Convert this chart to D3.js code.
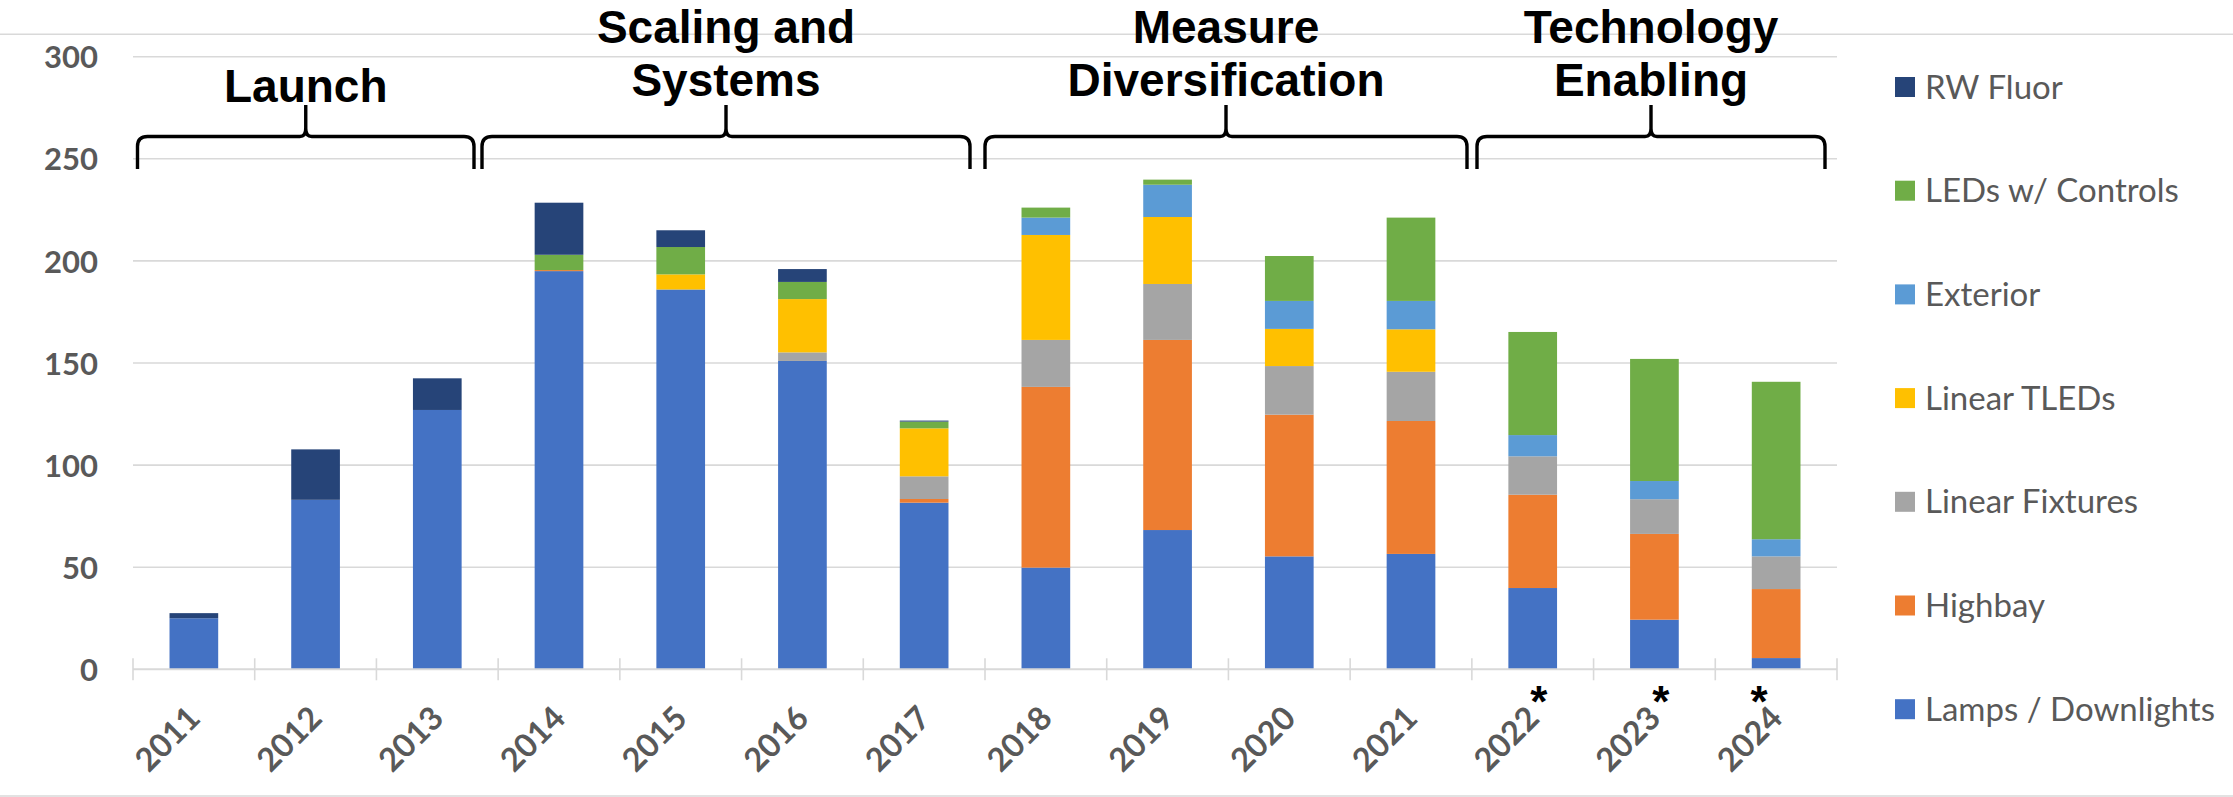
<!DOCTYPE html>
<html>
<head>
<meta charset="utf-8">
<script src="https://cdn.jsdelivr.net/npm/d3@7"></script>
<style>
  html, body { margin: 0; padding: 0; background: #ffffff; }
  svg { display: block; }
</style>
</head>
<body>
<svg id="chart" width="2233" height="797"></svg>
<script>
// ---- Data -------------------------------------------------------------
const years = ['2011','2012','2013','2014','2015','2016','2017','2018','2019','2020','2021','2022','2023','2024'];
const starredYears = ['2022','2023','2024'];

const seriesNames = ['Lamps / Downlights','Highbay','Linear Fixtures','Linear TLEDs','Exterior','LEDs w/ Controls','RW Fluor'];

const lampsDownlights = [25, 83, 127, 195, 186, 151, 81.6, 49.8, 68.2, 55.3, 56.5, 39.8, 24.3, 5.5];
const highbay         = [0, 0, 0, 0.5, 0, 0, 1.8, 88.5, 93.1, 69.4, 65.1, 45.7, 42, 33.8];
const linearFixtures  = [0, 0, 0, 0, 0, 4.2, 11.1, 23, 27.4, 23.8, 24.1, 18.8, 17, 16];
const linearTLEDs     = [0, 0, 0, 0, 7.4, 26.1, 23.5, 51.4, 32.8, 18.2, 20.8, 0, 0, 0];
const exterior        = [0, 0, 0, 0, 0, 0, 0, 8.5, 15.8, 13.7, 13.9, 10.4, 8.9, 8.4];
const ledsWithControls= [0, 0, 0, 7.5, 13.4, 8.4, 3.3, 4.9, 2.5, 22, 40.8, 50.5, 59.8, 77.1];
const rwFluor         = [2.5, 24.7, 15.5, 25.5, 8.2, 6.3, 0.5, 0, 0, 0, 0, 0, 0, 0];

const yTickValues = [0, 50, 100, 150, 200, 250, 300];

const phaseLabels = [
  ['Launch'],
  ['Scaling and', 'Systems'],
  ['Measure', 'Diversification'],
  ['Technology', 'Enabling']
];

// ---- Styles -----------------------------------------------------------
const seriesColors = {
  'Lamps / Downlights': '#4472C4',
  'Highbay': '#ED7D31',
  'Linear Fixtures': '#A5A5A5',
  'Linear TLEDs': '#FFC000',
  'Exterior': '#5B9BD5',
  'LEDs w/ Controls': '#70AD47',
  'RW Fluor': '#264478'
};
const gridColor = '#d9d9d9';
const textGray = '#595959';
const axisFont = 'Lato, "Open Sans", sans-serif';
const phaseFont = '"Liberation Sans", Arial, sans-serif';

// ---- Table for the stack layout ----------------------------------------
const seriesValues = [lampsDownlights, highbay, linearFixtures, linearTLEDs, exterior, ledsWithControls, rwFluor];
const table = years.map((yr, i) => {
  const row = { year: yr };
  seriesNames.forEach((name, s) => { row[name] = seriesValues[s][i]; });
  return row;
});
const stacked = d3.stack().keys(seriesNames)(table);

// ---- Layout -----------------------------------------------------------
const W = 2233, H = 797;
const plot = { left: 133, right: 1837, top: 56.7, bottom: 669.3 };

const svg = d3.select('#chart');

const x = d3.scaleBand()
  .domain(years)
  .range([plot.left, plot.right])
  .paddingInner(0.6)
  .paddingOuter(0.3);

const y = d3.scaleLinear()
  .domain([0, 300])
  .range([plot.bottom, plot.top]);

// Outer chart frame edges (top and bottom)
svg.append('line')
  .attr('x1', 0).attr('x2', W).attr('y1', 34.3).attr('y2', 34.3)
  .attr('stroke', gridColor).attr('stroke-width', 1.5);
svg.append('line')
  .attr('x1', 0).attr('x2', W).attr('y1', 796).attr('y2', 796)
  .attr('stroke', gridColor).attr('stroke-width', 1.5);

// Horizontal gridlines
svg.append('g')
  .selectAll('line')
  .data(yTickValues.filter(v => v > 0))
  .join('line')
  .attr('x1', plot.left).attr('x2', plot.right)
  .attr('y1', d => y(d)).attr('y2', d => y(d))
  .attr('stroke', gridColor).attr('stroke-width', 1.6);

// Y axis labels
const yAxis = d3.axisLeft(y).tickValues(yTickValues).tickSize(0).tickPadding(0);
const yAxisG = svg.append('g')
  .attr('transform', `translate(98,0)`)
  .call(yAxis);
yAxisG.select('.domain').remove();
yAxisG.selectAll('text')
  .attr('font-family', axisFont)
  .attr('font-weight', 700)
  .attr('font-size', 31)
  .attr('fill', textGray)
  .attr('dy', '0.36em');

// Stacked bars
svg.append('g')
  .selectAll('g')
  .data(stacked)
  .join('g')
  .attr('fill', d => seriesColors[d.key])
  .selectAll('rect')
  .data(d => d.filter(seg => seg[1] - seg[0] > 0))
  .join('rect')
  .attr('x', d => x(d.data.year))
  .attr('width', x.bandwidth())
  .attr('y', d => y(d[1]))
  .attr('height', d => y(d[0]) - y(d[1]));

// X axis line with crossing tick marks at category boundaries
const step = x.step();
const boundaries = years.map(yr => x(yr) - (step - x.bandwidth()) / 2).concat([plot.right]);
svg.append('line')
  .attr('x1', plot.left).attr('x2', plot.right)
  .attr('y1', y(0)).attr('y2', y(0))
  .attr('stroke', gridColor).attr('stroke-width', 2);
svg.append('g')
  .selectAll('line')
  .data(boundaries)
  .join('line')
  .attr('x1', d => d).attr('x2', d => d)
  .attr('y1', y(0) - 11).attr('y2', y(0) + 11)
  .attr('stroke', gridColor).attr('stroke-width', 1.6);

// X axis category labels, rotated
svg.append('g')
  .selectAll('text')
  .data(years)
  .join('text')
  .attr('transform', d => `translate(${x(d) + x.bandwidth() / 2},712) rotate(-45)`)
  .attr('text-anchor', 'end')
  .attr('dy', '0.36em')
  .attr('font-family', axisFont)
  .attr('font-weight', 700)
  .attr('font-size', 32.5)
  .attr('fill', textGray)
  .text(d => d);

// Asterisks marking provisional years
const starShift = { '2022': 6, '2023': 6.5, '2024': -17 };
svg.append('g')
  .selectAll('text')
  .data(starredYears)
  .join('text')
  .attr('x', d => x(d) + x.bandwidth() / 2 + starShift[d])
  .attr('y', 717)
  .attr('text-anchor', 'middle')
  .attr('font-family', phaseFont)
  .attr('font-weight', 700)
  .attr('font-size', 44)
  .attr('fill', '#000')
  .text('*');

// Phase braces and their titles
const braceSpans = [[137.5, 474], [482, 970], [985, 1467], [1477, 1825]];
const braceY = { top: 105, line: 136.5, end: 169 };
function bracePath(x0, x1) {
  const xm = (x0 + x1) / 2, r = 10, c = 6;
  const p = d3.path();
  p.moveTo(x0, braceY.end);
  p.lineTo(x0, braceY.line + r);
  p.quadraticCurveTo(x0, braceY.line, x0 + r, braceY.line);
  p.lineTo(xm - c, braceY.line);
  p.quadraticCurveTo(xm, braceY.line, xm, braceY.line - c - 2);
  p.lineTo(xm, braceY.top);
  p.lineTo(xm, braceY.line - c - 2);
  p.quadraticCurveTo(xm, braceY.line, xm + c, braceY.line);
  p.lineTo(x1 - r, braceY.line);
  p.quadraticCurveTo(x1, braceY.line, x1, braceY.line + r);
  p.lineTo(x1, braceY.end);
  return p.toString();
}
const phaseG = svg.append('g');
phaseG.selectAll('path')
  .data(braceSpans)
  .join('path')
  .attr('d', d => bracePath(d[0], d[1]))
  .attr('fill', 'none')
  .attr('stroke', '#000')
  .attr('stroke-width', 3.4);

phaseG.selectAll('text')
  .data(phaseLabels)
  .join('text')
  .attr('x', (d, i) => (braceSpans[i][0] + braceSpans[i][1]) / 2)
  .attr('text-anchor', 'middle')
  .attr('font-family', phaseFont)
  .attr('font-weight', 700)
  .attr('font-size', 46)
  .attr('fill', '#000')
  .each(function(lines) {
    const t = d3.select(this);
    const baselines = lines.length === 1 ? [101.7] : [42.5, 96];
    const cx = t.attr('x');
    lines.forEach((ln, k) => {
      t.append('tspan').attr('x', cx).attr('y', baselines[k]).text(ln);
    });
  });

// Legend (top entry is the top of the stack)
const legendItems = seriesNames.slice().reverse();
const legendG = svg.append('g');
const legendRow = legendG.selectAll('g')
  .data(legendItems)
  .join('g')
  .attr('transform', (d, i) => `translate(1895,${87 + i * 103.7})`);
legendRow.append('rect')
  .attr('x', 0).attr('y', -10).attr('width', 20).attr('height', 20)
  .attr('fill', d => seriesColors[d]);
legendRow.append('text')
  .attr('x', 30).attr('y', 11.5)
  .attr('font-family', axisFont)
  .attr('font-size', 33)
  .attr('fill', textGray)
  .text(d => d);
</script>
</body>
</html>
